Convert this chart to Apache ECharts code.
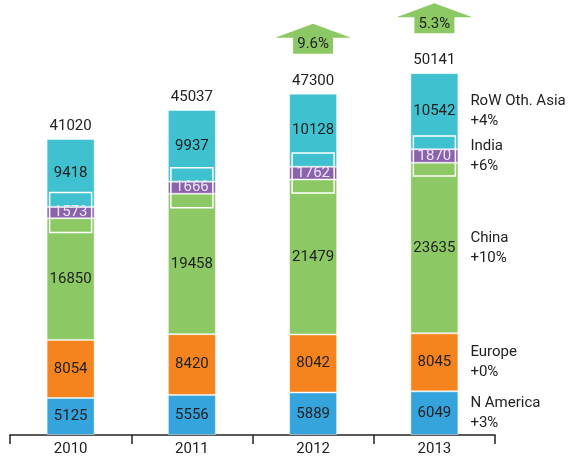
<!DOCTYPE html>
<html>
<head>
<meta charset="utf-8">
<script src="https://cdn.jsdelivr.net/npm/echarts@6/dist/echarts.min.js"></script>
<style>html,body{margin:0;padding:0;background:#fff;}#c{width:576px;height:457px;}</style>
</head>
<body>
<div id="c"></div>
<script>
const categories = ['2010', '2011', '2012', '2013'];
const nAmerica = [5125, 5556, 5889, 6049];
const europe = [8054, 8420, 8042, 8045];
const china = [16850, 19458, 21479, 23635];
const india = [1573, 1666, 1762, 1870];
const rowAsia = [9418, 9937, 10128, 10542];
const totals = [41020, 45037, 47300, 50141];
const growth = [null, null, '9.6%', '5.3%'];
const seriesNames = ['N America', 'Europe', 'China', 'India', 'RoW Oth. Asia'];
const seriesGrowth = ['+3%', '+0%', '+10%', '+6%', '+4%'];

const colors = ['#35a3dc', '#f5841f', '#8cc864', '#8b62ac', '#3fc1cf'];
const seriesData = [nAmerica, europe, china, india, rowAsia];
const FONT = 'Roboto';
const BAR_W = 48;

const chart = echarts.init(document.getElementById('c'), null, {renderer: 'canvas'});

const barSeries = seriesData.map((d, k) => ({
  name: seriesNames[k],
  type: 'bar',
  stack: 'total',
  barWidth: BAR_W,
  data: d,
  itemStyle: {color: colors[k], borderColor: 'rgba(255,255,255,0.45)', borderWidth: 1},
  label: {
    show: true,
    position: 'inside',
    fontFamily: FONT,
    fontSize: 15,
    color: k === 3 ? '#ece4f4' : '#222'
  },
  emphasis: {disabled: true}
}));

// India boxes
const indiaBase = categories.map((c, i) => nAmerica[i] + europe[i] + china[i]);
const boxData = categories.map((c, i) => [i, indiaBase[i] + india[i] / 2]);

// arrows data
const arrowData = [];
growth.forEach((g, i) => { if (g) arrowData.push([i, totals[i], g]); });

// right labels for last category
const last = categories.length - 1;
const rightData = [];
let acc = 0;
seriesData.forEach((d, k) => {
  rightData.push([last, acc + d[last] / 2, seriesNames[k] + '\n' + seriesGrowth[k]]);
  acc += d[last];
});

const option = {
  animation: false,
  grid: {left: 10, right: 81, top: 2, bottom: 22},
  xAxis: {
    type: 'category',
    data: categories,
    axisLine: {lineStyle: {color: '#222', width: 1.5}},
    axisTick: {show: true, length: 9, lineStyle: {color: '#222', width: 1.5}},
    axisLabel: {fontFamily: FONT, fontSize: 15, color: '#222', margin: 7}
  },
  yAxis: {type: 'value', min: 0, max: 60000, show: false, splitLine: {show: false}},
  series: barSeries.concat([
    {
      type: 'bar', stack: 'total', barWidth: BAR_W, data: totals.map(() => 0),
      itemStyle: {color: 'transparent'},
      label: {show: true, position: 'top', distance: 5, fontFamily: FONT, fontSize: 15, color: '#222',
        formatter: p => totals[p.dataIndex]},
      z: 5
    },
    {
      type: 'custom',
      data: boxData,
      encode: {x: 0, y: 1},
      z: 10,
      renderItem: (params, api) => {
        const p = api.coord([api.value(0), api.value(1)]);
        return {
          type: 'rect',
          shape: {x: p[0] - BAR_W / 2 + 3, y: p[1] - 20, width: BAR_W - 6, height: 40},
          style: {fill: 'none', stroke: '#fff', lineWidth: 1.5}
        };
      }
    },
    {
      type: 'custom',
      data: arrowData,
      encode: {x: 0, y: 1},
      z: 10,
      renderItem: (params, api) => {
        const p = api.coord([api.value(0), api.value(1)]);
        const cx = p[0];
        const by = p[1] - 40;
        const txt = arrowData[params.dataIndex][2];
        return {
          type: 'group',
          children: [
            {
              type: 'polygon',
              shape: {points: [[cx - 20, by], [cx + 20, by], [cx + 20, by - 16], [cx + 38, by - 16], [cx, by - 30], [cx - 38, by - 16], [cx - 20, by - 16]]},
              style: {fill: '#8cc864'}
            },
            {
              type: 'text',
              style: {x: cx, y: by - 9, text: txt, align: 'center', verticalAlign: 'middle',
                fontFamily: FONT, fontSize: 15, fill: '#222'}
            }
          ]
        };
      }
    },
    {
      type: 'custom',
      data: rightData,
      encode: {x: 0, y: 1},
      z: 10,
      renderItem: (params, api) => {
        const p = api.coord([api.value(0), api.value(1)]);
        return {
          type: 'text',
          style: {x: p[0] + BAR_W / 2 + 12, y: p[1], text: rightData[params.dataIndex][2],
            align: 'left', verticalAlign: 'middle', lineHeight: 20,
            fontFamily: FONT, fontSize: 15, fill: '#222'}
        };
      }
    }
  ])
};
chart.setOption(option);
</script>
</body>
</html>
